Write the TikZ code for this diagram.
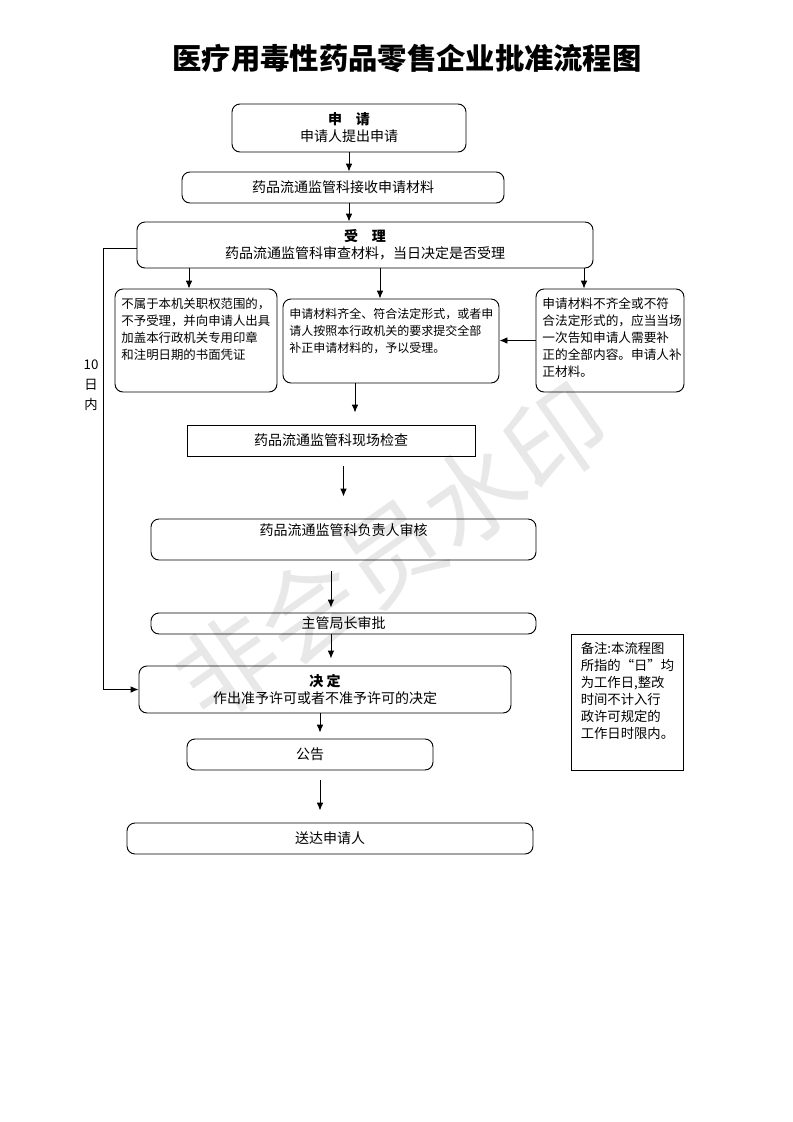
\documentclass[tikz,border=0pt]{standalone}
\usepackage{fontspec}
\setmainfont{Noto Sans CJK SC}
\usetikzlibrary{positioning}
\usetikzlibrary{arrows.meta}
\tikzset{
    boxr/.style = {rectangle, rounded corners=6pt, draw=black, line width=0.7pt, align=center, inner sep=0pt, font=\fontsize{10.5pt}{12.75pt}\selectfont},
    boxs/.style = {rectangle, draw=black, line width=0.7pt, align=center, inner sep=0pt, font=\fontsize{10.5pt}{12.75pt}\selectfont},
    small/.style = {anchor=north west, align=left, inner sep=0pt, font=\fontsize{9.3pt}{12.75pt}\selectfont},
    edgen/.style = {-{Latex[length=6pt,width=5pt]}, line width=0.7pt},
}

\begin{document}
\begin{tikzpicture}[x=0.75pt,y=-0.75pt]
\useasboundingbox (0,0) rectangle (793,1122);
% watermark
\node[rotate=35, text=black!9, font=\fontsize{75pt}{75pt}\selectfont] (wm) at (392,552) {非会员水印};
% title
\node[font=\fontsize{22pt}{26pt}\selectfont\bfseries] (title) at (407,58) {医疗用毒性药品零售企业批准流程图};
%
\node[boxr, minimum width=175.5pt, minimum height=36pt] (sq) at (349,128) {\textbf{申\quad 请}\\申请人提出申请};
\node[boxr, minimum width=241.5pt, minimum height=23.25pt] (js) at (343,187.5) {药品流通监管科接收申请材料};
\node[boxr, minimum width=342pt, minimum height=34.5pt] (sl) at (365,245) {\textbf{受\quad 理}\\药品流通监管科审查材料，当日决定是否受理};
\node[boxr, minimum width=121.5pt, minimum height=77.25pt] (bsl) at (196,340.5) {};
\node[boxr, minimum width=162pt, minimum height=63pt] (ok) at (391,341) {};
\node[boxr, minimum width=111pt, minimum height=77.25pt] (bz) at (610,340.5) {};
\node[small] (bsltxt) at ([xshift=5pt,yshift=-7pt]bsl.north west) {不属于本机关职权范围的，\\不予受理，并向申请人出具\\加盖本行政机关专用印章\\和注明日期的书面凭证};
\node[small, font=\fontsize{9pt}{12.75pt}\selectfont] (oktxt) at ([xshift=5pt,yshift=-7pt]ok.north west) {申请材料齐全、符合法定形式，或者申\\请人按照本行政机关的要求提交全部\\补正申请材料的，予以受理。};
\node[small, font=\fontsize{9.5pt}{12.75pt}\selectfont] (bztxt) at ([xshift=5pt,yshift=-7pt]bz.north west) {申请材料不齐全或不符\\合法定形式的，应当当场\\一次告知申请人需要补\\正的全部内容。申请人补\\正材料。};
%
\node[boxs, minimum width=216pt, minimum height=23.25pt] (xc) at (331,440.5) {药品流通监管科现场检查};
\node[boxr, minimum width=288.75pt, minimum height=30.75pt, text depth=15pt] (fz) at (343.5,539.5) {药品流通监管科负责人审核};
\node[boxr, minimum width=288.75pt, minimum height=15.75pt] (zg) at (343.5,623.5) {主管局长审批};
\node[boxr, minimum width=279pt, minimum height=35.25pt] (jd) at (325,689.5) {\textbf{决\ 定}\\作出准予许可或者不准予许可的决定};
\node[boxr, minimum width=184.5pt, minimum height=23.25pt] (gg) at (310,754.5) {公告};
\node[boxr, minimum width=304.5pt, minimum height=23.25pt] (sd) at (330,838.5) {送达申请人};
\node[boxs, minimum width=84pt, minimum height=102pt] (note) at (627,702) {};
\node[small, font=\fontsize{10pt}{12.75pt}\selectfont] (notetxt) at ([xshift=7.5pt,yshift=-6pt]note.north west) {备注:本流程图\\所指的“日”均\\为工作日,整改\\时间不计入行\\政许可规定的\\工作日时限内。};
\node[font=\fontsize{10pt}{15pt}\selectfont, align=center, inner sep=0pt] (days) at (91,385) {10\\日\\内};
%
\draw[edgen] (sq.south) -- (sq.south |- js.north);
\draw[edgen] (sq.south |- js.south) -- (sq.south |- sl.north);
\coordinate (t1) at ([xshift=-132pt]sl.south);
\coordinate (t2) at ([xshift=11.25pt]sl.south);
\coordinate (t3) at ([xshift=164.25pt]sl.south);
\draw[edgen] (t1) -- (t1 |- bsl.north);
\draw[edgen] (t2) -- (t2 |- ok.north);
\draw[edgen] (t3) -- (t3 |- bz.north);
\draw[edgen] (bz.west) -- (bz.west -| ok.east);
\coordinate (t4) at ([xshift=-27pt]ok.south);
\draw[edgen, shorten >=9pt] (t4) -- (t4 |- xc.north);
\draw[edgen, shorten <=7.5pt, shorten >=16.5pt] (xc.south -| fz.north) -- (fz.north);
\coordinate (t5) at ([xshift=-9.4pt]fz.south);
\draw[edgen, shorten <=8.25pt, shorten >=3.75pt] (t5) -- (t5 |- zg.north);
\draw[edgen, shorten >=5.25pt] (t5 |- zg.south) -- (t5 |- jd.north);
\coordinate (t6) at ([xshift=-3.75pt]jd.south);
\draw[edgen, shorten >=4.5pt] (t6) -- (t6 |- gg.north);
\draw[edgen, shorten <=7.5pt, shorten >=9pt] (t6 |- gg.south) -- (t6 |- sd.north);
% 10 days loop
\coordinate (lp) at ([xshift=-24.75pt,yshift=-2.25pt]sl.west);
\draw[edgen] ([yshift=-2.25pt]sl.west) -- (lp) |- (jd.west);

\end{tikzpicture}
\end{document}
